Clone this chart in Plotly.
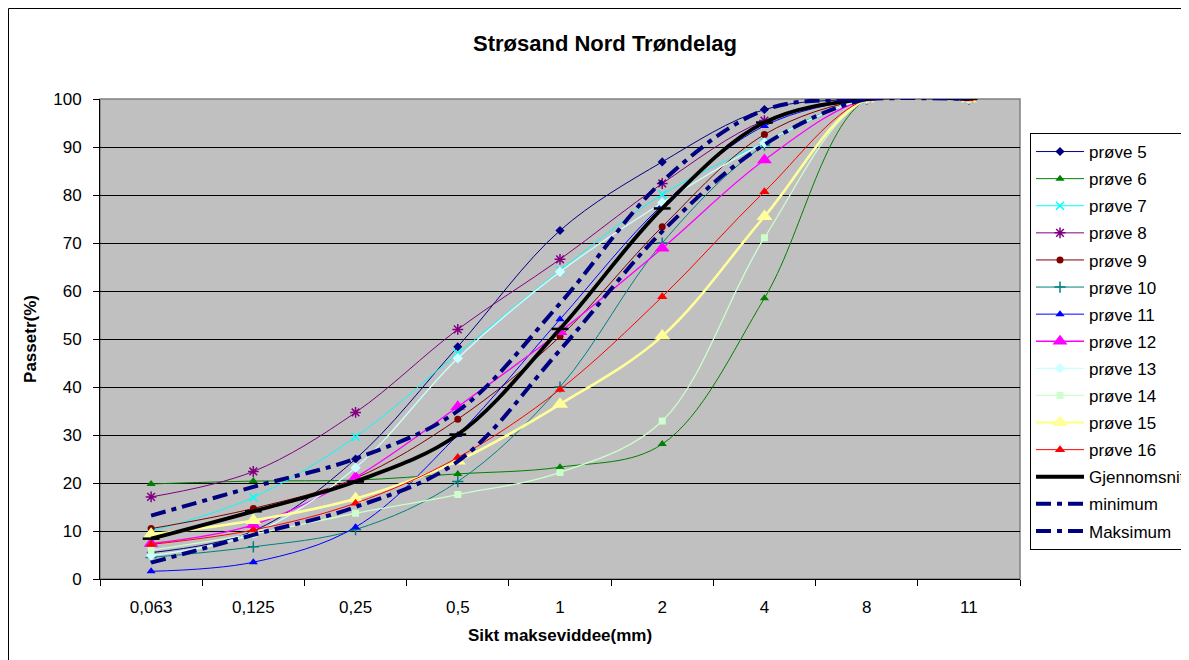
import plotly.graph_objects as go

categories = ["0,063", "0,125", "0,25", "0,5", "1", "2", "4", "8", "11"]

prove5 = [5.5, 10.0, 25.0, 48.4, 72.6, 86.9, 97.8, 100, 100]
prove6 = [19.8, 20.4, 20.6, 21.9, 23.3, 28.1, 58.5, 100, 100]
prove7 = [10.0, 17.0, 29.6, 47.0, 64.3, 80.1, 90.9, 100, 100]
prove8 = [17.1, 22.4, 34.7, 52.0, 66.6, 82.4, 95.5, 100, 100]
prove9 = [10.5, 14.7, 21.0, 33.3, 50.5, 73.4, 92.6, 100, 100]
prove10 = [4.5, 6.7, 10.3, 20.3, 40.0, 70.0, 90.4, 100, 100]
prove11 = [1.6, 3.5, 10.8, 30.0, 54.1, 77.9, 94.4, 100, 100]
prove12 = [7.4, 11.3, 21.2, 35.9, 51.5, 68.9, 87.3, 100, 100]
prove13 = [4.9, 9.5, 23.2, 46.0, 64.0, 78.4, 90.9, 100, 100]
prove14 = [6.0, 9.4, 13.7, 17.6, 22.2, 32.9, 71.1, 100, 100]
prove15 = [9.3, 12.2, 16.7, 24.6, 36.4, 50.6, 75.5, 100, 100]
prove16 = [7.2, 10.2, 15.8, 25.3, 39.5, 58.8, 80.7, 100, 100]
gjennomsnitt = [8.4, 14.1, 20.3, 30.1, 52.1, 77.2, 95.1, 100, 100]
minimum = [3.4, 9.2, 15.0, 24.5, 47.7, 72.4, 90.5, 100, 100]
maksimum = [13.2, 19.2, 25.1, 35.0, 57.4, 82.8, 97.7, 100, 100]

y_ticks = [0, 10, 20, 30, 40, 50, 60, 70, 80, 90, 100]

FONT = "Liberation Sans, Arial, sans-serif"

# page has an 8px body margin; figure coordinates = page coordinates - 8
W, H = 1181, 652
L, T = 92, 91
R = W - (1020 - 8)
B = H - (579 - 8)
PW = W - L - R
PH = H - T - B

samples = [
    ("prøve 5", prove5, "#000080", "diamond", 7, 1),
    ("prøve 6", prove6, "#008000", "triangle-up", 8, 1),
    ("prøve 7", prove7, "#00FFFF", "x-thin-open", 8, 1),
    ("prøve 8", prove8, "#800080", "asterisk-open", 9, 1),
    ("prøve 9", prove9, "#800000", "circle", 7, 1),
    ("prøve 10", prove10, "#008080", "cross-thin-open", 8, 1),
    ("prøve 11", prove11, "#0000FF", "triangle-up", 8, 1),
    ("prøve 12", prove12, "#FF00FF", "triangle-up", 13, 1.3),
    ("prøve 13", prove13, "#CCFFFF", "diamond", 8, 1.3),
    ("prøve 14", prove14, "#CCFFCC", "square", 7, 1.3),
    ("prøve 15", prove15, "#FFFF99", "triangle-up", 14, 2.6),
    ("prøve 16", prove16, "#FF0000", "triangle-up", 9, 1),
]

fig = go.Figure()

for i, (name, vals, col, sym, size, lw) in enumerate(samples):
    mk = dict(symbol=sym, size=size, color=col)
    if sym.endswith("-open"):
        mk["line"] = dict(color=col, width=1.5)
    fig.add_trace(go.Scatter(
        x=categories, y=vals, name=name, mode="lines+markers",
        line=dict(color=col, width=lw, shape="spline", smoothing=1.0),
        marker=mk, legendgroup=f"g{i}",
    ))

fig.add_trace(go.Scatter(
    x=categories, y=gjennomsnitt, name="Gjennomsnitt", mode="lines+markers",
    line=dict(color="#000000", width=3.8, shape="spline", smoothing=1.0),
    marker=dict(symbol="line-ew-open", size=12, color="#000000",
                line=dict(color="#000000", width=2.5)),
    legendgroup="g12",
))

for j, (name, vals) in enumerate([("minimum", minimum), ("Maksimum", maksimum)]):
    fig.add_trace(go.Scatter(
        x=categories, y=vals, name=name, mode="lines",
        line=dict(color="#000080", width=4, shape="spline", smoothing=1.0,
                  dash="15px,6px,5px,6px"),
        legendgroup=f"g{13 + j}",
    ))

# outer chart frame
fig.add_shape(type="rect", xref="paper", yref="paper",
              x0=(0.5 - L) / PW, x1=1.3, y0=-0.3, y1=(PH + T - 0.5) / PH,
              line=dict(color="#000000", width=1), fillcolor="rgba(0,0,0,0)",
              layer="below")
# plot area border
fig.add_shape(type="rect", xref="paper", yref="paper", x0=0, x1=1, y0=0, y1=1,
              line=dict(color="#808080", width=1.5), fillcolor="rgba(0,0,0,0)",
              layer="between")

fig.update_layout(
    width=W, height=H,
    margin=dict(l=L, r=R, t=T, b=B, autoexpand=False),
    paper_bgcolor="#FFFFFF",
    plot_bgcolor="#C0C0C0",
    font=dict(family=FONT, size=17, color="#000000"),
    title=dict(text="<b>Strøsand Nord Trøndelag</b>", x=(605 - 8) / W, xanchor="center",
               y=1 - (43 - 8) / H, yanchor="middle", font=dict(size=22, family=FONT)),
    xaxis=dict(
        type="category", categoryorder="array", categoryarray=categories,
        tickson="boundaries", ticks="outside", ticklen=6, tickcolor="#000000",
        showgrid=False, showline=True, linecolor="#000000", linewidth=1,
        tickfont=dict(size=17, family=FONT), ticklabelstandoff=13,
        title=dict(text="<b>Sikt makseviddee(mm)</b>", font=dict(size=17, family=FONT),
                   standoff=12),
        range=[-0.5, 8.5], zeroline=False,
    ),
    yaxis=dict(
        range=[0, 100], tickvals=y_ticks, ticks="outside", ticklen=6,
        tickcolor="#000000", showgrid=True, gridcolor="#000000", gridwidth=1,
        showline=True, linecolor="#000000", linewidth=1, zeroline=False,
        tickfont=dict(size=17, family=FONT), ticklabelstandoff=8,
        title=dict(text="<b>Passetr(%)</b>", font=dict(size=17, family=FONT), standoff=12),
    ),
    legend=dict(
        x=(1030 - 8 - L) / PW, y=(PH + T - (133 - 8)) / PH, xanchor="left", yanchor="top",
        bordercolor="#000000", borderwidth=1, bgcolor="#FFFFFF",
        font=dict(size=17, family=FONT), traceorder="grouped", tracegroupgap=2,
        itemwidth=48,
    ),
    showlegend=True,
)

fig.write_html("out.html")
